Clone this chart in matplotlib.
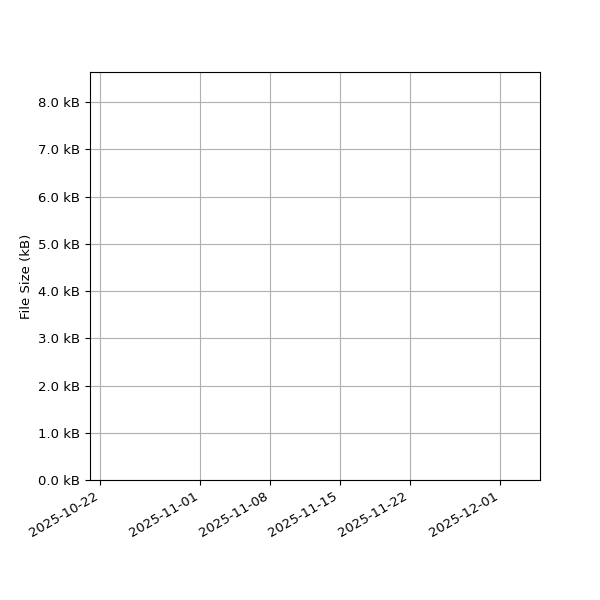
import datetime as dt
import matplotlib
matplotlib.use("Agg")
import matplotlib.pyplot as plt
import matplotlib.dates as mdates
from matplotlib.ticker import FuncFormatter

# nothing is drawn in the reference, only the empty axes
dates = []
sizes_kb = []

tick_dates = ["2025-10-22", "2025-11-01", "2025-11-08", "2025-11-15", "2025-11-22", "2025-12-01"]
x_start = dt.datetime(2025, 10, 21)
x_end = dt.datetime(2025, 12, 5)
y_top = 8.635

fig, ax = plt.subplots(figsize=(6, 6), dpi=100)
ax.plot(dates, sizes_kb)

ax.set_xlim(x_start, x_end)
ax.set_ylim(0, y_top)
ax.set_xticks([dt.datetime.strptime(d, "%Y-%m-%d") for d in tick_dates])
ax.xaxis.set_major_formatter(mdates.DateFormatter("%Y-%m-%d"))
ax.set_yticks(range(0, 9))
ax.yaxis.set_major_formatter(FuncFormatter(lambda v, p: "%.1f kB" % v))
ax.tick_params(labelsize=9.5)
ax.set_ylabel("File Size (kB)", fontsize=9.5)
ax.grid(True)

fig.autofmt_xdate()
fig.subplots_adjust(left=0.15, right=0.9, bottom=0.2, top=0.88)
fig.savefig("out.png")
